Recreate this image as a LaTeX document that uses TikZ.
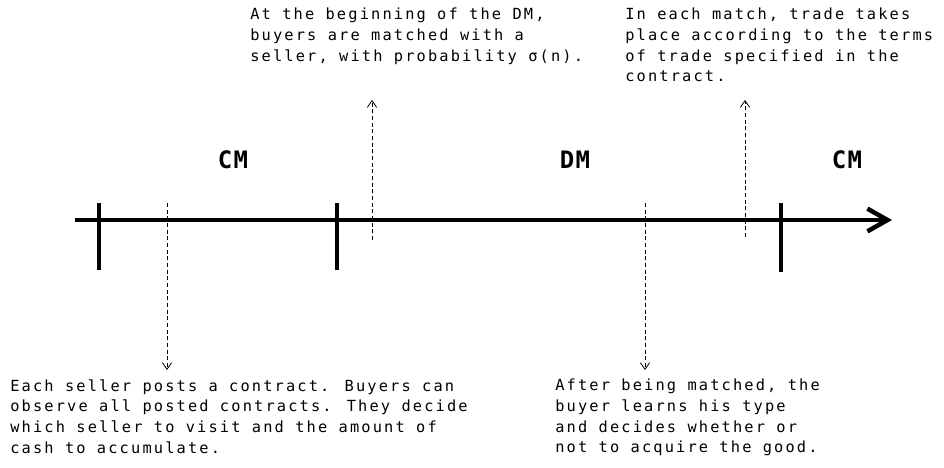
\documentclass[tikz,border=0pt]{standalone}
\usepackage{fontspec}
\usepackage{tikz}
\usetikzlibrary{arrows.meta}
\newfontfamily\monof[LetterSpace=14]{DejaVu Sans Mono}
\newfontfamily\titref[LetterSpace=6]{DejaVu Sans Mono}

\begin{document}
\begin{tikzpicture}[x=0.75pt,y=-0.75pt]
\tikzstyle{axe}=[line width=3.4pt]
\tikzstyle{lien}=[densely dashed,line width=0.6pt,-{Straight Barb[length=5pt,width=7pt]}]
\tikzset{texte/.style={anchor=north west,inner sep=0pt,align=left,
font=\monof\fontsize{11.5}{15.5}\selectfont},
periode/.style={font=\titref\bfseries\fontsize{18}{20}\selectfont}}
\useasboundingbox (0,0) rectangle (944,467);

% axe du temps
\coordinate (O) at (75,220);
\coordinate (F) at (892,220);
\draw[axe,-{Straight Barb[length=15pt,width=17pt]}] (O) -- (F);
\draw[axe] (99,203) -- (99,270);
\draw[axe] (337,203) -- (337,270);
\draw[axe] (781,203) -- (781,272);

\node[periode] (P1) at (233,160) {CM};
\node[periode] (P2) at (575,160) {DM};
\node[periode] (P3) at (847,160) {CM};

% textes
\node[texte] (A) at (250,8) {At the beginning of the DM,\\buyers are matched with a\\seller, with probability σ(n).};
\node[texte] (B) at (625,8) {In each match, trade takes\\place according to the terms\\of trade specified in the\\contract.};
\node[texte] (C) at (10,379) {Each seller posts a contract. Buyers can\\observe all posted contracts. They decide\\which seller to visit and the amount of\\cash to accumulate.};
\node[texte] (D) at (555,379) {After being matched, the\\buyer learns his type\\and decides whether or\\not to acquire the good.};

\coordinate (A0) at (372,240);
\coordinate (A1) at (372,100);
\coordinate (B0) at (745,237);
\coordinate (B1) at (745,100);
\coordinate (C0) at (167,203);
\coordinate (C1) at (167,370);
\coordinate (D0) at (645,203);
\coordinate (D1) at (645,370);

\draw[lien] (A0) -- (A1);
\draw[lien] (B0) -- (B1);
\draw[lien] (C0) -- (C1);
\draw[lien] (D0) -- (D1);

\end{tikzpicture}
\end{document}
